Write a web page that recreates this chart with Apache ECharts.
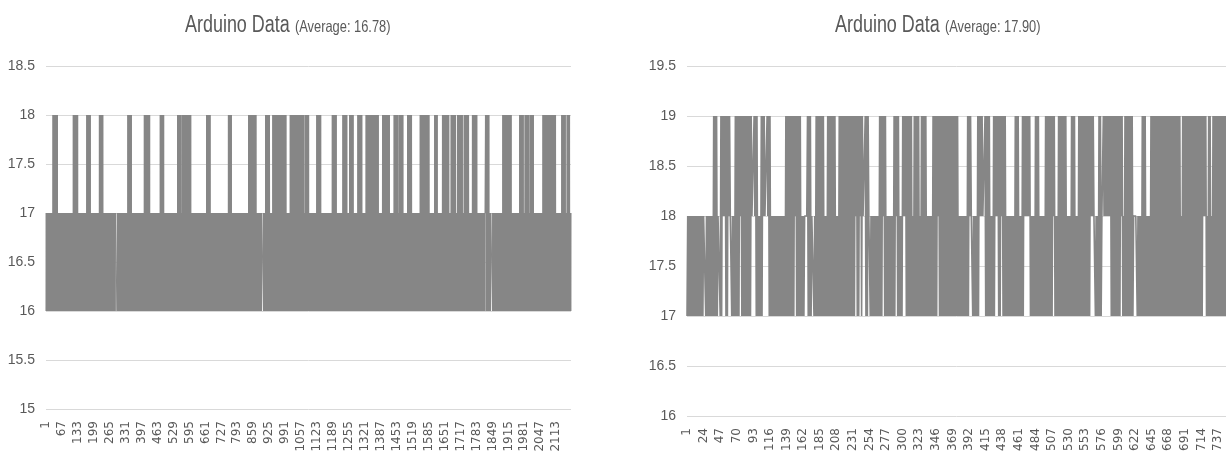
<!DOCTYPE html>
<html>
<head>
<meta charset="utf-8">
<script src="https://cdn.jsdelivr.net/npm/echarts@6/dist/echarts.min.js"></script>
<style>
html,body{margin:0;padding:0;background:#fff;}
#c{width:1226px;height:462px;}
</style>
</head>
<body>
<div id="c"></div>
<script>
// ---------- Left chart data ----------
const leftTitle = 'Arduino Data';
const leftAverage = '(Average: 16.78)';
const leftCount = 2174;                 // number of readings
const leftLevels = [16, 17, 18];        // low, normal, peak readings
// reading index ranges where the signal swings up to the peak level
const leftPeakRuns = [
  [28,47],[113,131],[169,183],[221,236],[338,353],[407,429],[472,487],[545,559],
  [564,600],[665,680],[754,767],[839,870],[908,925],[939,994],[1010,1049],[1053,1067],
  [1072,1088],[1121,1137],[1185,1201],[1229,1246],[1256,1272],[1291,1308],[1324,1376],
  [1393,1422],[1441,1458],[1462,1478],[1496,1513],[1549,1585],[1608,1620],[1640,1667],
  [1676,1695],[1703,1724],[1730,1749],[1764,1783],[1818,1833],[1891,1925],[1960,1975],
  [1982,1999],[2004,2018],[2057,2109],[2135,2149],[2156,2167]
];
// reading index ranges where the signal holds at the normal level
const leftSteadyRuns = [[288,293],[893,898],[1817,1821],[1841,1846]];
const leftYTicks = [15, 18.5, 0.5];     // min, max, step
const leftLabelStep = 66;

// ---------- Right chart data ----------
const rightTitle = 'Arduino Data';
const rightAverage = '(Average: 17.90)';
const rightCount = 748;
const rightLevels = [17, 18, 19];
const rightPeakRuns = [
  [37,42],[47,54],[55,60],[67,90],[93,97],[103,107],[111,116],[137,145],[147,158],
  [166,171],[179,190],[194,205],[210,243],[247,252],[267,276],[287,293],[299,312],
  [314,321],[324,331],[341,375],[388,393],[402,409],[412,419],[424,442],[455,460],
  [465,475],[483,488],[496,510],[514,525],[532,538],[542,564],[570,573],[577,604],
  [606,617],[631,636],[643,683],[686,719],[723,726],[729,747]
];
// ranges where the signal never drops to the low level
const rightSteadyRuns = [
  [23,24],[44,44],[50,52],[58,60],[67,67],[73,74],[90,94],[106,113],[149,151],
  [164,166],[174,175],[211,211],[234,235],[239,241],[244,246],[251,253],[272,273],
  [289,291],[300,302],[347,348],[391,395],[406,412],[427,430],[435,436],[468,475],
  [507,508],[541,541],[560,564],[575,586],[602,603],[620,622],[716,718]
];
const rightYTicks = [16, 19.5, 0.5];
const rightLabelStep = 23;

// ---------- build ----------
function inRuns(runs, i) {
  for (const r of runs) { if (i >= r[0] && i <= r[1]) return true; }
  return false;
}
function buildSeries(count, levels, peakRuns, steadyRuns) {
  const [lo, mid, hi] = levels;
  const out = [];
  for (let i = 0; i < count; i++) {
    const peak = inRuns(peakRuns, i), steady = inRuns(steadyRuns, i);
    let v;
    if (peak && steady) v = (i % 2) ? hi : mid;
    else if (steady) v = mid;
    else if (peak) v = (i % 2) ? hi : lo;
    else v = (i % 2) ? mid : lo;
    out.push(v);
  }
  return out;
}
function buildCategories(count) {
  const c = [];
  for (let i = 1; i <= count; i++) c.push(String(i));
  return c;
}
const leftCategories = buildCategories(leftCount);
const rightCategories = buildCategories(rightCount);
const leftValues = buildSeries(leftCount, leftLevels, leftPeakRuns, leftSteadyRuns);
const rightValues = buildSeries(rightCount, rightLevels, rightPeakRuns, rightSteadyRuns);

const SANS = "'Liberation Sans', Arial, sans-serif";
const textGray = '#595959';
const gridGray = '#d9d9d9';
const lineGray = '#868686';

function titleGraphic(name, avg, x) {
  return {
    type: 'text', x: x, y: 14, scaleX: 0.78, scaleY: 1, silent: true,
    style: {
      text: '{a|' + name + '}  {b|' + avg + '}',
      verticalAlign: 'top', align: 'left',
      rich: {
        a: { fontSize: 23, fontFamily: SANS, fill: textGray, fontWeight: 'normal', verticalAlign: 'bottom' },
        b: { fontSize: 16.5, fontFamily: SANS, fill: textGray, fontWeight: 'normal', verticalAlign: 'bottom', padding: [0,0,1,0] }
      }
    }
  };
}
function xAxisOpt(idx, cats, step) {
  return {
    type: 'category', gridIndex: idx, data: cats, boundaryGap: false,
    axisLine: { show: false }, axisTick: { show: false },
    axisLabel: { interval: step - 1, rotate: 90, margin: 12, fontSize: 12,
      fontFamily: "'DejaVu Sans', sans-serif", color: textGray },
    splitLine: { show: false }
  };
}
function yAxisOpt(idx, t) {
  return {
    type: 'value', gridIndex: idx, min: t[0], max: t[1], interval: t[2],
    axisLine: { show: false }, axisTick: { show: false },
    axisLabel: { margin: 11, fontSize: 14, fontFamily: SANS, color: textGray },
    splitLine: { show: true, lineStyle: { color: gridGray, width: 1 } }
  };
}
function seriesOpt(idx, values, w) {
  return {
    type: 'line', xAxisIndex: idx, yAxisIndex: idx, data: values,
    symbol: 'none', showSymbol: false, silent: true,
    lineStyle: { color: lineGray, width: w }, itemStyle: { color: lineGray }
  };
}

const chart = echarts.init(document.getElementById('c'), null, { renderer: 'canvas' });
chart.setOption({
  animation: false,
  backgroundColor: '#ffffff',
  graphic: [titleGraphic(leftTitle, leftAverage, 185), titleGraphic(rightTitle, rightAverage, 835)],
  grid: [
    { left: 46, top: 66, width: 525, height: 343 },
    { left: 687, top: 66, width: 539, height: 350 }
  ],
  xAxis: [xAxisOpt(0, leftCategories, leftLabelStep), xAxisOpt(1, rightCategories, rightLabelStep)],
  yAxis: [yAxisOpt(0, leftYTicks), yAxisOpt(1, rightYTicks)],
  series: [seriesOpt(0, leftValues, 1), seriesOpt(1, rightValues, 1.6)]
});
</script>
</body>
</html>
